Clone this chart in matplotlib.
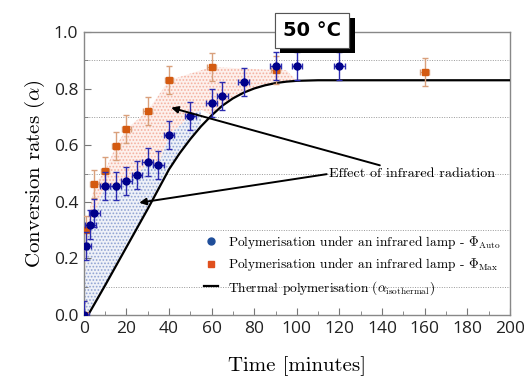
import numpy as np
import matplotlib
matplotlib.use("Agg")
import matplotlib.pyplot as plt
from matplotlib.ticker import MultipleLocator
import matplotlib.patheffects as pe
from matplotlib.lines import Line2D

plt.rcParams['mathtext.fontset'] = 'cm'
plt.rcParams['hatch.linewidth'] = 0.8

# Φ_Auto (blue) measurements
auto_t = [0, 1, 3, 5, 10, 15, 20, 25, 30, 35, 40, 50, 60, 65, 75, 90, 100, 120]
auto_a = [0.0, 0.245, 0.32, 0.36, 0.456, 0.456, 0.473, 0.495, 0.54, 0.531, 0.637,
          0.704, 0.749, 0.774, 0.824, 0.88, 0.88, 0.88]
auto_xerr = 2.5
auto_yerr = 0.05

# Φ_Max (orange) measurements
max_t = [0, 1, 5, 10, 15, 20, 30, 40, 60, 90, 160]
max_a = [0.0, 0.30, 0.462, 0.51, 0.597, 0.657, 0.722, 0.83, 0.877, 0.866, 0.86]
max_xerr = 2.0
max_yerr = 0.05

# Thermal polymerisation curve (alpha isothermal)
therm_t = [0, 2, 10, 20, 30, 40, 45, 50, 55, 60, 65, 70, 75, 80, 85, 90, 95, 100,
           110, 120, 140, 160, 180, 200]
therm_a = [0.0, 0.0, 0.105, 0.24, 0.375, 0.515, 0.572, 0.622, 0.667, 0.706, 0.74,
           0.766, 0.786, 0.801, 0.812, 0.82, 0.825, 0.828, 0.83, 0.83, 0.83, 0.83,
           0.83, 0.83]

blue_end = 55     # where the Φ_Auto shading meets the thermal curve
red_end = 100     # where the Φ_Max shading ends

fig = plt.figure(figsize=(5.24, 3.83), dpi=100)
ax = fig.add_axes([0.160, 0.1775, 0.813, 0.7385])

# shaded regions
grid = np.unique(np.concatenate([auto_t, max_t, therm_t, [blue_end, red_end]]).astype(float))
grid = grid[grid <= red_end]
th = np.interp(grid, therm_t, therm_a)
au = np.interp(grid, auto_t, auto_a)
mx = np.interp(grid, max_t, max_a)
mid = np.where(grid <= blue_end, np.maximum(au, th), th)
upper = np.where(grid >= red_end, th, mx)

ax.fill_between(grid, th, mid, where=grid <= blue_end, facecolor='#eef1f8',
                edgecolor='#8fa2d2', hatch='.....', linewidth=0, zorder=1)
ax.fill_between(grid, mid, np.maximum(upper, mid), facecolor='#fdf0ec',
                edgecolor='#f4b0a0', hatch='.....', linewidth=0, zorder=1)

# grid lines at odd tenths
for yv in [0.1, 0.3, 0.5, 0.7, 0.9]:
    ax.axhline(yv, color='#999999', lw=0.7, ls=(0, (1, 1.5)), zorder=0.5)

# thermal curve
ax.plot(therm_t, therm_a, color='black', lw=1.6, zorder=3)

# error bars
ax.errorbar(max_t, max_a, xerr=max_xerr, yerr=max_yerr, fmt='s', color='#d45a10',
            ecolor='#d9a07c', elinewidth=1.0, capsize=2.5, capthick=1.0, ms=5, zorder=4)
ax.errorbar(auto_t, auto_a, xerr=auto_xerr, yerr=auto_yerr, fmt='o', color='#00008b',
            ecolor='#2b2bb0', elinewidth=1.0, capsize=2.5, capthick=1.0, ms=5, zorder=5)

ax.set_xlim(0, 200)
ax.set_ylim(0, 1.0)
ax.xaxis.set_major_locator(MultipleLocator(20))
ax.xaxis.set_minor_locator(MultipleLocator(10))
ax.yaxis.set_major_locator(MultipleLocator(0.2))
ax.yaxis.set_minor_locator(MultipleLocator(0.1))
ax.yaxis.set_major_formatter(matplotlib.ticker.FormatStrFormatter('%.1f'))
ax.tick_params(which='both', direction='in', color='#777777')
ax.tick_params(which='major', length=5, labelsize=12.5, labelcolor='#222222', pad=4)
ax.tick_params(which='minor', length=3)
for lbl in ax.get_xticklabels() + ax.get_yticklabels():
    lbl.set_fontfamily('Open Sans')
for s in ax.spines.values():
    s.set_color('#888888')
    s.set_linewidth(1.0)

ax.set_xlabel('Time [minutes]', fontfamily='cmr10', fontsize=15, labelpad=14)
ax.set_ylabel(r'Conversion rates ($\alpha$)', fontfamily='cmr10', fontsize=15, labelpad=5)

# annotation
txt_xy = (115, 0.498)
ax.annotate('Effect of infrared radiation', xy=(41, 0.733), xytext=txt_xy,
            fontfamily='cmr10', fontsize=10.2, va='center', ha='left',
            arrowprops=dict(arrowstyle='-|>', color='black', lw=1.4,
                            mutation_scale=10, shrinkA=0, shrinkB=0), zorder=6)
ax.annotate('', xy=(26, 0.397), xytext=(txt_xy[0] - 1, txt_xy[1]),
            arrowprops=dict(arrowstyle='-|>', color='black', lw=1.4,
                            mutation_scale=10, shrinkA=0, shrinkB=0), zorder=6)

# legend
handles = [
    Line2D([], [], marker='o', ls='none', color='#1f4e9a', ms=5),
    Line2D([], [], marker='s', ls='none', color='#e0501e', ms=5),
    Line2D([], [], color='black', lw=1.6),
]
labels = [
    r'Polymerisation under an infrared lamp - $\mathbf{\Phi}_{\mathrm{Auto}}$',
    r'Polymerisation under an infrared lamp - $\mathbf{\Phi}_{\mathrm{Max}}$',
    r'Thermal polymerisation ($\alpha_{\mathrm{isothermal}}$)',
]
leg = ax.legend(handles, labels, loc='upper left', bbox_to_anchor=(0.27, 0.305),
                frameon=False, prop={'family': 'cmr10', 'size': 9.6},
                handlelength=1.0, handletextpad=0.8, labelspacing=0.4,
                borderaxespad=0)

# 50 °C box with shadow
t = fig.text(0.595, 0.921, '50 °C', fontsize=14, fontweight='bold',
             fontfamily='DejaVu Sans', ha='center', va='center', zorder=10,
             bbox=dict(boxstyle='square,pad=0.42', facecolor='white',
                       edgecolor='#555555', linewidth=0.8))
t.get_bbox_patch().set_path_effects([
    pe.withSimplePatchShadow(offset=(4, -4), shadow_rgbFace='black', alpha=1.0),
    pe.Normal()])

fig.savefig('out.png', dpi=100)
